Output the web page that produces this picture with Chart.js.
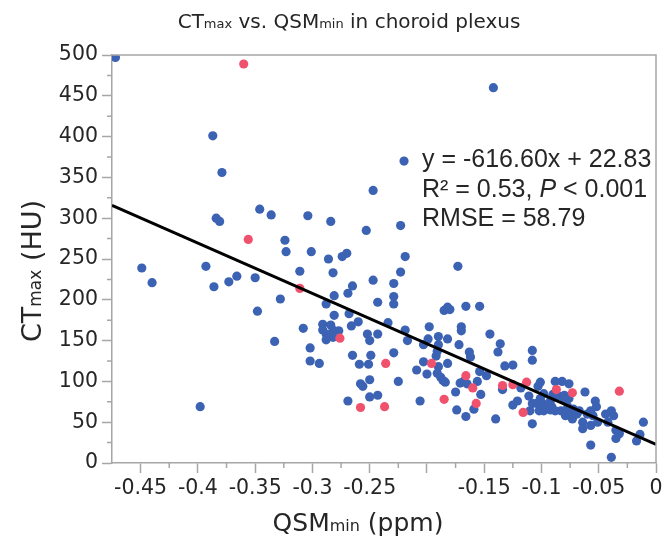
<!DOCTYPE html>
<html>
<head>
<meta charset="utf-8">
<script src="https://cdn.jsdelivr.net/npm/chart.js@4"></script>
<style>
  html, body { margin: 0; padding: 0; background: #fff; }
</style>
</head>
<body>
<canvas id="chart" width="672" height="543"></canvas>
<script>
// Blue points (QSMmin ppm, CTmax HU)
const blueX = [-0.472, -0.387, -0.379, -0.384, -0.381, -0.346, -0.336, -0.304, -0.284, -0.324,
  -0.323, -0.301, -0.286, -0.274, -0.270, -0.219, -0.449, -0.440, -0.393, -0.386,
  -0.373, -0.366, -0.350, -0.348, -0.328, -0.311, -0.333, -0.308, -0.302, -0.302,
  -0.294, -0.398, -0.282, -0.281, -0.288, -0.281, -0.291, -0.291, -0.284, -0.288,
  -0.282, -0.288, -0.277, -0.282, -0.142, -0.220, -0.247, -0.253, -0.223, -0.173,
  -0.247, -0.229, -0.223, -0.265, -0.269, -0.229, -0.229, -0.243, -0.268, -0.260,
  -0.266, -0.234, -0.219, -0.217, -0.252, -0.250, -0.243, -0.265, -0.249, -0.229,
  -0.259, -0.251, -0.258, -0.256, -0.250, -0.225, -0.250, -0.243, -0.269, -0.185,
  -0.182, -0.180, -0.166, -0.154, -0.198, -0.170, -0.170, -0.199, -0.203, -0.190,
  -0.182, -0.190, -0.191, -0.192, -0.172, -0.145, -0.136, -0.138, -0.108, -0.108,
  -0.163, -0.162, -0.203, -0.190, -0.182, -0.209, -0.200, -0.191, -0.188, -0.186,
  -0.184, -0.171, -0.168, -0.165, -0.156, -0.154, -0.148, -0.153, -0.175, -0.159,
  -0.132, -0.125, -0.134, -0.118, -0.111, -0.121, -0.125, -0.108, -0.140, -0.174,
  -0.166, -0.206, -0.108, -0.110, -0.101, -0.103, -0.088, -0.082, -0.076, -0.062,
  -0.101, -0.099, -0.102, -0.098, -0.092, -0.091, -0.093, -0.085, -0.080, -0.080,
  -0.088, -0.083, -0.079, -0.076, -0.077, -0.073, -0.079, -0.069, -0.067, -0.064,
  -0.064, -0.057, -0.060, -0.055, -0.053, -0.052, -0.057, -0.051, -0.057, -0.044,
  -0.039, -0.037, -0.042, -0.035, -0.032, -0.035, -0.039, -0.011, -0.014, -0.017,
  -0.098, -0.090, -0.072, -0.076, -0.092, -0.104];
const blueY = [497, 401, 356, 300, 296, 311, 304, 303, 296, 273,
  259, 259, 250, 253, 257, 253, 239, 221, 241, 216,
  222, 229, 227, 186, 201, 235, 149, 165, 141, 125,
  122, 69, 233, 205, 195, 181, 170, 163, 169, 158,
  154, 151, 162, 163, 460, 370, 334, 285, 291, 241,
  224, 220, 234, 217, 208, 204, 195, 197, 183, 173,
  168, 172, 163, 150, 158, 150, 158, 132, 132, 135,
  121, 121, 97, 94, 102, 100, 81, 83, 76, 187,
  191, 188, 192, 192, 167, 167, 162, 152, 145, 155,
  152, 145, 137, 131, 145, 158, 146, 136, 138, 126,
  136, 130, 124, 118, 122, 114, 109, 110, 105, 101,
  99, 98, 100, 97, 100, 112, 107, 84, 87, 66,
  119, 120, 90, 92, 82, 76, 71, 48, 54, 65,
  57, 76, 73, 64, 99, 94, 100, 100, 97, 87,
  79, 73, 64, 64, 77, 69, 71, 82, 83, 77,
  64, 64, 62, 60, 69, 54, 58, 60, 64, 50,
  42, 64, 60, 58, 76, 69, 46, 50, 22, 60,
  64, 58, 50, 40, 36, 30, 7, 50, 35, 27,
  85, 84, 66, 79, 65, 73];

// Red points
const redX = [-0.360, -0.356, -0.311, -0.276, -0.236, -0.258, -0.237, -0.196, -0.185, -0.166,
  -0.160, -0.157, -0.134, -0.125, -0.113, -0.116, -0.087, -0.073, -0.032];
const redY = [489, 274, 214, 153, 122, 68, 69, 122, 78, 107,
  92, 73, 95, 96, 99, 62, 90, 86, 88];

// Regression line end points
const fitX = [-0.475, 0];
const fitY = [315.7, 22.8];

// Axis ticks
const xTickValues = [-0.45, -0.4, -0.35, -0.3, -0.25, -0.2, -0.15, -0.1, -0.05, 0];
const xTickLabels = ['-0.45', '-0.4', '-0.35', '-0.3', '-0.25', '', '-0.15', '-0.1', '-0.05', '0'];
const xMinorTicks = [-0.425, -0.375, -0.325, -0.275, -0.225, -0.175, -0.125, -0.075, -0.025];
const yTickValues = [0, 50, 100, 150, 200, 250, 300, 350, 400, 450, 500];
const yMinorTicks = [25, 75, 125, 175, 225, 275, 325, 375, 425, 475];

const toPoints = (xs, ys) => xs.map((v, i) => ({ x: v, y: ys[i] }));

const axisColor = '#a6a6a6';
const textColor = '#262626';
const sans = '"DejaVu Sans", Verdana, sans-serif';
const arial = '"Liberation Sans", Arial, sans-serif';

function drawParts(ctx, parts, x, y, center) {
  let total = 0;
  parts.forEach(p => { ctx.font = p[1]; total += ctx.measureText(p[0]).width; });
  let cx = center ? x - total / 2 : x;
  parts.forEach(p => {
    ctx.font = p[1];
    ctx.fillText(p[0], cx, y);
    cx += ctx.measureText(p[0]).width;
  });
}

const decor = {
  id: 'decor',
  afterDraw(chart) {
    const { ctx, chartArea: a, scales: { x, y } } = chart;
    ctx.save();
    // top and right frame
    ctx.strokeStyle = axisColor;
    ctx.lineWidth = 1.5;
    ctx.beginPath();
    ctx.moveTo(a.left, a.top);
    ctx.lineTo(a.right, a.top);
    ctx.lineTo(a.right, a.bottom);
    ctx.stroke();
    // minor ticks
    ctx.beginPath();
    xMinorTicks.forEach(v => {
      const px = x.getPixelForValue(v);
      ctx.moveTo(px, a.bottom);
      ctx.lineTo(px, a.bottom + 5);
    });
    yMinorTicks.forEach(v => {
      const py = y.getPixelForValue(v);
      ctx.moveTo(a.left, py);
      ctx.lineTo(a.left - 5, py);
    });
    ctx.stroke();

    ctx.fillStyle = textColor;
    ctx.textBaseline = 'alphabetic';
    ctx.textAlign = 'left';
    // title
    drawParts(ctx, [['CT', '20px ' + sans], ['max', '13px ' + sans], [' vs. QSM', '20px ' + sans],
      ['min', '13px ' + sans], [' in choroid plexus', '20px ' + sans]], 349, 28, true);
    // x axis title
    drawParts(ctx, [['QSM', '25px ' + sans], ['min', '16px ' + sans], [' (ppm)', '25px ' + sans]], 358, 531, true);
    // y axis title
    ctx.save();
    ctx.translate(41, 271);
    ctx.rotate(-Math.PI / 2);
    drawParts(ctx, [['CT', '27px ' + sans], ['max', '17px ' + sans], [' (HU)', '27px ' + sans]], 0, 0, true);
    ctx.restore();
    // regression annotation
    const f = '25px ' + arial;
    drawParts(ctx, [['y = -616.60x + 22.83', f]], 422, 167, false);
    drawParts(ctx, [['R² = 0.53, ', f], ['P', 'italic ' + f], [' < 0.001', f]], 422, 197, false);
    drawParts(ctx, [['RMSE = 58.79', f]], 422, 226, false);
    ctx.restore();
  }
};

new Chart(document.getElementById('chart'), {
  type: 'scatter',
  data: {
    datasets: [
      {
        label: 'Fit',
        data: toPoints(fitX, fitY),
        showLine: true,
        borderColor: '#000',
        borderWidth: 3,
        pointRadius: 0,
        order: 0
      },
      {
        label: 'Red',
        data: toPoints(redX, redY),
        backgroundColor: 'rgb(240, 82, 110)',
        borderWidth: 0,
        pointRadius: 4.6,
        order: 1
      },
      {
        label: 'Blue',
        data: toPoints(blueX, blueY),
        backgroundColor: 'rgb(60, 98, 180)',
        borderWidth: 0,
        pointRadius: 4.6,
        order: 2
      }
    ]
  },
  options: {
    responsive: false,
    animation: false,
    devicePixelRatio: 1,
    layout: { padding: { top: 55, right: 16, left: 0, bottom: 0 } },
    plugins: {
      legend: { display: false },
      tooltip: { enabled: false },
      title: { display: false }
    },
    scales: {
      x: {
        type: 'linear',
        min: -0.475,
        max: 0,
        afterBuildTicks: scale => { scale.ticks = xTickValues.map(v => ({ value: v })); },
        afterFit: scale => { scale.height = 80; },
        ticks: {
          padding: 3,
          color: textColor,
          font: { family: sans, size: 20.5 },
          maxRotation: 0,
          autoSkip: false,
          callback: (v, i) => xTickLabels[i]
        },
        grid: { drawOnChartArea: false, tickLength: 10, color: axisColor, tickWidth: 1.5 },
        border: { color: axisColor, width: 1.5 }
      },
      y: {
        type: 'linear',
        min: 0,
        max: 500,
        afterBuildTicks: scale => { scale.ticks = yTickValues.map(v => ({ value: v })); },
        afterFit: scale => { scale.width = 112; },
        ticks: {
          padding: 4,
          color: textColor,
          font: { family: sans, size: 20.5 },
          autoSkip: false
        },
        grid: { drawOnChartArea: false, tickLength: 10, color: axisColor, tickWidth: 1.5 },
        border: { color: axisColor, width: 1.5 }
      }
    }
  },
  plugins: [decor]
});
</script>
</body>
</html>
